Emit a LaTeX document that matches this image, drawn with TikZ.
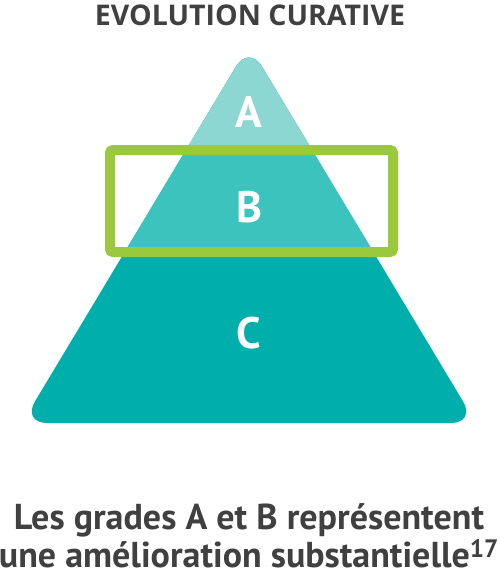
\documentclass[tikz,border=0pt]{standalone}
\usepackage{fontspec}
\setmainfont{PT Sans}
\newfontfamily\headfont{Open Sans}
\definecolor{gradeA}{HTML}{8DD7D3}
\definecolor{gradeB}{HTML}{3DC3BD}
\definecolor{gradeC}{HTML}{00AEAB}
\definecolor{frameGreen}{HTML}{9BC93D}
\definecolor{ink}{HTML}{404040}
\begin{document}
\begin{tikzpicture}[
    x=1pt, y=-1pt,
    letter/.style={text=white, font=\fontsize{44}{44}\selectfont\bfseries, anchor=base},
    heading/.style={text=ink, font=\headfont\fontsize{28.5}{28.5}\selectfont\bfseries, anchor=base, inner sep=0pt},
    caption/.style={text=ink, font=\fontsize{36}{36}\selectfont\bfseries, anchor=base, inner sep=0pt},
    pyr/.style={rounded corners=25pt}
]
    \useasboundingbox (0,0) rectangle (499,583);
    \def\pyramid{(249,423) -- (476,423) -- (249,45) -- (22,423) -- cycle}

    % Title
    \node[heading] (title) at (250,26) {EVOLUTION CURATIVE};

    % Pyramid bands
    \fill[gradeC, pyr] \pyramid;
    \begin{scope}
        \clip (0,0) rectangle (499,252);
        \fill[gradeB, pyr] \pyramid;
    \end{scope}
    \begin{scope}
        \clip (0,0) rectangle (499,150);
        \fill[gradeA, pyr] \pyramid;
    \end{scope}

    % Grades
    \node[letter] (gradeA) at (249,128) {A};
    \node[letter] (gradeB) at (249,222) {B};
    \node[letter] (gradeC) at (249,348) {C};

    % Highlight frame
    \draw[frameGreen, line width=10pt, rounded corners=3pt] (110,150) rectangle (393,252);

    % Caption
    \node[caption] (captionA) at (249,529) {Les grades A et B représentent};
    \node[caption] (captionB) at (249,567) {une amélioration substantielle\textsuperscript{17}};
\end{tikzpicture}
\end{document}
